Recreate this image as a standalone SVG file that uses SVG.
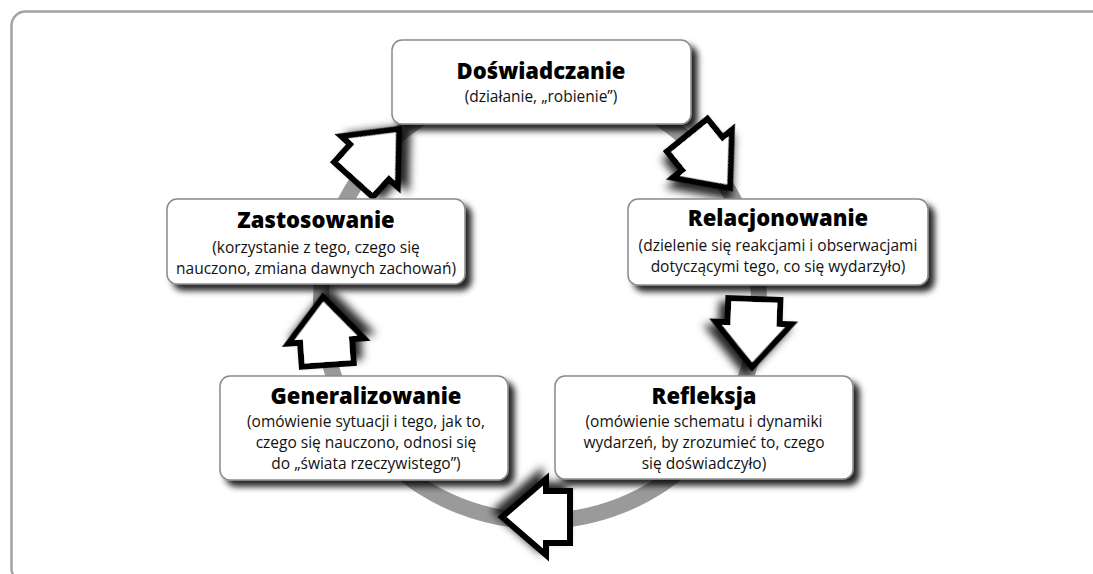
<svg xmlns="http://www.w3.org/2000/svg" width="1093" height="574" viewBox="0 0 1093 574">
<defs>
<filter id="boxShadow" x="-10%" y="-20%" width="130%" height="150%">
<feDropShadow dx="6" dy="6" stdDeviation="3" flood-color="#000" flood-opacity="0.85"/>
</filter>
<filter id="arrowShadow" x="-40%" y="-40%" width="190%" height="190%">
<feDropShadow dx="6" dy="6" stdDeviation="4" flood-color="#000" flood-opacity="0.85"/>
</filter>
<path id="arrow" d="M0,0 L-44,-38 L-44,-26 L-68,-26 L-68,26 L-44,26 L-44,38 Z"/>
</defs>
<style>
.frame{fill:none;stroke:#a3a3a3;stroke-width:2.5}
.ring{fill:none;stroke:#9a9a9a;stroke-width:16}
.arr{fill:#fff;stroke:#000;stroke-width:6;stroke-linejoin:miter;filter:url(#arrowShadow)}
.box{fill:#fff;stroke:#8a8a8a;stroke-width:1.5;filter:url(#boxShadow)}
.title{font-family:"Open Sans",Lato,"DejaVu Sans",sans-serif;font-weight:800;font-size:22px;fill:#000;text-anchor:middle}
.sub{font-family:"Open Sans",Lato,"DejaVu Sans",sans-serif;font-weight:400;font-size:15.5px;fill:#111;text-anchor:middle}
</style>
<rect width="1093" height="574" fill="#fff"/>
<rect class="frame" x="11.5" y="11.5" width="1100" height="571" rx="14"/>
<g id="connectors">
<circle class="ring" cx="540" cy="302" r="219"/>
<use href="#arrow" class="arr" transform="translate(730,188) rotate(51)"/>
<use href="#arrow" class="arr" transform="translate(752,367) rotate(92)"/>
<use href="#arrow" class="arr" transform="translate(502,517) rotate(180)"/>
<use href="#arrow" class="arr" transform="translate(323,297) rotate(-94)"/>
<use href="#arrow" class="arr" transform="translate(399,129) rotate(-48)"/>
</g>
<g id="node-doswiadczanie">
<rect class="box" x="392" y="40" width="299" height="84" rx="10"/>
<text class="title" x="541" y="79">Doświadczanie</text>
<text class="sub" x="541" y="102">(działanie, „robienie”)</text>
</g>
<g id="node-relacjonowanie">
<rect class="box" x="628" y="199" width="300" height="86" rx="10"/>
<text class="title" x="778" y="226">Relacjonowanie</text>
<text class="sub" x="778" y="251">(dzielenie się reakcjami i obserwacjami</text>
<text class="sub" x="778" y="272">dotyczącymi tego, co się wydarzyło)</text>
</g>
<g id="node-refleksja">
<rect class="box" x="555" y="376" width="298" height="103" rx="10"/>
<text class="title" x="704" y="404">Refleksja</text>
<text class="sub" x="704" y="427">(omówienie schematu i dynamiki</text>
<text class="sub" x="704" y="448">wydarzeń, by zrozumieć to, czego</text>
<text class="sub" x="704" y="469">się doświadczyło)</text>
</g>
<g id="node-generalizowanie">
<rect class="box" x="220" y="376" width="288" height="104" rx="10"/>
<text class="title" x="366" y="404">Generalizowanie</text>
<text class="sub" x="366" y="427">(omówienie sytuacji i tego, jak to,</text>
<text class="sub" x="366" y="448">czego się nauczono, odnosi się</text>
<text class="sub" x="366" y="469">do „świata rzeczywistego”)</text>
</g>
<g id="node-zastosowanie">
<rect class="box" x="167" y="199" width="298" height="85" rx="10"/>
<text class="title" x="316" y="228">Zastosowanie</text>
<text class="sub" x="316" y="253">(korzystanie z tego, czego się</text>
<text class="sub" x="316" y="274">nauczono, zmiana dawnych zachowań)</text>
</g>
</svg>
